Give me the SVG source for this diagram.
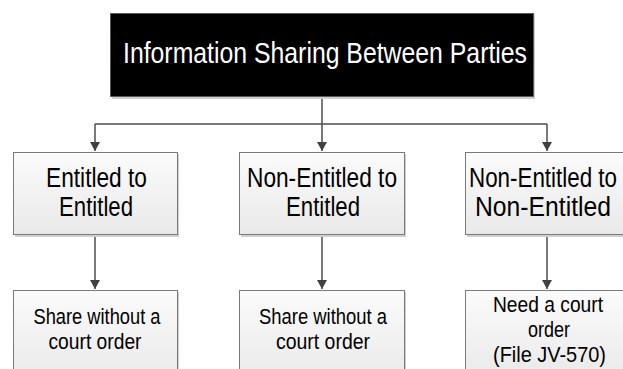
<svg xmlns="http://www.w3.org/2000/svg" width="623" height="369" viewBox="0 0 623 369">
<style>
.bg{fill:#ffffff}
.sh{fill:#cfcfcf}
.box{fill:url(#g);stroke:#7a7a7a;stroke-width:1}
.title{fill:#000000;stroke:#5a5a5a;stroke-width:1}
.t{font-family:"Liberation Sans",Arial,sans-serif;fill:#000000;text-anchor:middle}
.tw{font-family:"Liberation Sans",Arial,sans-serif;fill:#ffffff;text-anchor:middle;font-size:29px}
.m{font-size:27px}
.s{font-size:22px}
.c{fill:none;stroke:#4d4d4d;stroke-width:1.5}
</style>
<defs>
<linearGradient id="g" x1="0" y1="0" x2="0" y2="1">
<stop offset="0" stop-color="#fbfbfb"/>
<stop offset="1" stop-color="#e9e9e9"/>
</linearGradient>
<marker id="ah" markerWidth="10" markerHeight="10" refX="9" refY="5" orient="auto" markerUnits="userSpaceOnUse">
<path d="M0,0 L9,5 L0,10 Z" fill="#404040"/>
</marker>
</defs>
<rect class="bg" x="0" y="0" width="623" height="369"/>

<g id="connectors">
<path class="c" d="M322,97 V124"/>
<path class="c" d="M95,124 H547"/>
<path class="c" d="M95,124 V151" marker-end="url(#ah)"/>
<path class="c" d="M322,124 V151" marker-end="url(#ah)"/>
<path class="c" d="M547,124 V151" marker-end="url(#ah)"/>
<path class="c" d="M95,235 V289" marker-end="url(#ah)"/>
<path class="c" d="M322,235 V289" marker-end="url(#ah)"/>
<path class="c" d="M547,235 V289" marker-end="url(#ah)"/>
</g>

<g id="root">
<rect class="sh" x="112" y="15" width="423" height="84"/>
<rect class="title" x="110.5" y="13.5" width="423" height="83"/>
<text class="tw" x="325" y="63" textLength="404" lengthAdjust="spacingAndGlyphs">Information Sharing Between Parties</text>
</g>

<g id="n1">
<rect class="sh" x="15" y="154" width="164" height="83"/>
<rect class="box" x="13.5" y="152.5" width="164" height="82"/>
<text class="t m" x="96.5" y="187" textLength="101" lengthAdjust="spacingAndGlyphs">Entitled to</text>
<text class="t m" x="96" y="216" textLength="74" lengthAdjust="spacingAndGlyphs">Entitled</text>
</g>

<g id="n2">
<rect class="sh" x="241" y="154" width="165" height="83"/>
<rect class="box" x="239.5" y="152.5" width="165" height="82"/>
<text class="t m" x="322" y="187" textLength="150" lengthAdjust="spacingAndGlyphs">Non-Entitled to</text>
<text class="t m" x="323" y="216" textLength="74" lengthAdjust="spacingAndGlyphs">Entitled</text>
</g>

<g id="n3">
<rect class="sh" x="467" y="154" width="165" height="83"/>
<rect class="box" x="465.5" y="152.5" width="165" height="82"/>
<text class="t m" x="543" y="187" textLength="148" lengthAdjust="spacingAndGlyphs">Non-Entitled to</text>
<text class="t m" x="543" y="216" textLength="136" lengthAdjust="spacingAndGlyphs">Non-Entitled</text>
</g>

<g id="n4">
<rect class="sh" x="15" y="292" width="164" height="90"/>
<rect class="box" x="13.5" y="290.5" width="164" height="90"/>
<text class="t s" x="97" y="324" textLength="127" lengthAdjust="spacingAndGlyphs">Share without a</text>
<text class="t s" x="95" y="349" textLength="93" lengthAdjust="spacingAndGlyphs">court order</text>
</g>

<g id="n5">
<rect class="sh" x="241" y="292" width="165" height="90"/>
<rect class="box" x="239.5" y="290.5" width="165" height="90"/>
<text class="t s" x="323" y="324" textLength="128" lengthAdjust="spacingAndGlyphs">Share without a</text>
<text class="t s" x="323" y="349" textLength="94" lengthAdjust="spacingAndGlyphs">court order</text>
</g>

<g id="n6">
<rect class="sh" x="467" y="292" width="165" height="90"/>
<rect class="box" x="465.5" y="290.5" width="165" height="90"/>
<text class="t s" x="548" y="312" textLength="110" lengthAdjust="spacingAndGlyphs">Need a court</text>
<text class="t s" x="549" y="337" textLength="42" lengthAdjust="spacingAndGlyphs">order</text>
<text class="t s" x="549.5" y="362" textLength="113" lengthAdjust="spacingAndGlyphs">(File JV-570)</text>
</g>
</svg>
